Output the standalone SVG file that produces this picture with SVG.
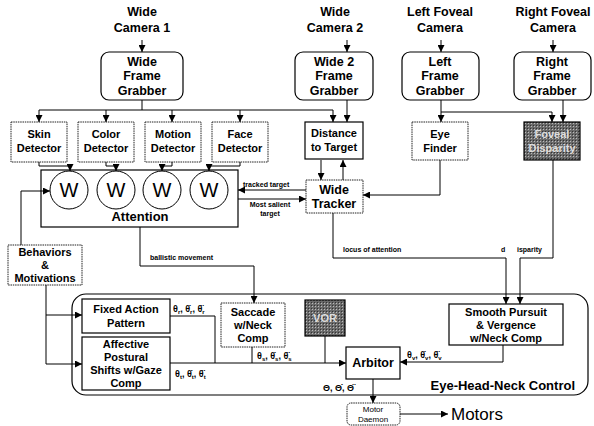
<svg xmlns="http://www.w3.org/2000/svg" width="594" height="426" viewBox="0 0 594 426">
<defs>
<marker id="ah" viewBox="0 0 8 8" refX="8" refY="4" markerWidth="7" markerHeight="7" markerUnits="userSpaceOnUse" orient="auto"><path d="M0,0 L8,4 L0,8 z" fill="#000"/></marker>
<pattern id="stip" width="3" height="3" patternUnits="userSpaceOnUse"><rect width="3" height="3" fill="#6a6a6a"/><rect width="1" height="1" fill="#bbb"/><rect x="2" y="2" width="1" height="1" fill="#333"/></pattern>
</defs>
<style>
text{font-family:"Liberation Sans",Arial,sans-serif;font-weight:bold;fill:#000;text-anchor:middle}
.t12{font-size:12.5px}
.t11{font-size:11px}
.t7{font-size:7px}
.t8{font-size:8px}
.th{font-size:9px}
.box{fill:#fff;stroke:#000;stroke-width:1.2}
.dbox{fill:#fff;stroke:#222;stroke-width:1;stroke-dasharray:1.5 0.8}
.dark{fill:url(#stip);stroke:#000;stroke-width:1.2}
.ln{fill:none;stroke:#000;stroke-width:1}
.arr{fill:none;stroke:#000;stroke-width:1;marker-end:url(#ah)}
.lt{fill:#ddd}
.sl{text-anchor:start}
</style>
<g id="labels-top">
<text class="t12" x="142" y="16">Wide</text><text class="t12" x="142" y="32">Camera 1</text>
<text class="t12" x="335" y="16">Wide</text><text class="t12" x="335" y="32">Camera 2</text>
<text class="t12" x="440" y="16">Left Foveal</text><text class="t12" x="440" y="32">Camera</text>
<text class="t12" x="553" y="16">Right Foveal</text><text class="t12" x="553" y="32">Camera</text>
</g>
<g id="eye-head-neck-control">
<rect x="72" y="294" width="516" height="101" rx="14" fill="none" stroke="#000" stroke-width="1.2"/>
<text x="575" y="390" style="font-size:13px;text-anchor:end">Eye-Head-Neck Control</text>
</g>
<g id="wide-frame-grabber"><rect class="box" x="101" y="52" width="82" height="48" rx="8"/>
<text class="t12" x="142" y="66">Wide</text><text class="t12" x="142" y="80">Frame</text><text class="t12" x="142" y="95">Grabber</text></g>
<g id="wide2-frame-grabber"><rect class="box" x="295" y="52" width="78" height="48" rx="8"/>
<text class="t12" x="334" y="66">Wide 2</text><text class="t12" x="334" y="80">Frame</text><text class="t12" x="334" y="95">Grabber</text></g>
<g id="left-frame-grabber"><rect class="box" x="402" y="52" width="77" height="48" rx="8"/>
<text class="t12" x="440" y="66">Left</text><text class="t12" x="440" y="80">Frame</text><text class="t12" x="440" y="95">Grabber</text></g>
<g id="right-frame-grabber"><rect class="box" x="514" y="52" width="77" height="48" rx="8"/>
<text class="t12" x="552" y="66">Right</text><text class="t12" x="552" y="80">Frame</text><text class="t12" x="552" y="95">Grabber</text></g>
<g id="skin-detector"><rect class="dbox" x="11" y="122" width="56" height="40"/>
<text class="t11" x="39" y="138">Skin</text><text class="t11" x="39" y="152">Detector</text></g>
<g id="color-detector"><rect class="dbox" x="78" y="122" width="56" height="40"/>
<text class="t11" x="106" y="138">Color</text><text class="t11" x="106" y="152">Detector</text></g>
<g id="motion-detector"><rect class="dbox" x="145" y="122" width="56" height="40"/>
<text class="t11" x="173" y="138">Motion</text><text class="t11" x="173" y="152">Detector</text></g>
<g id="face-detector"><rect class="dbox" x="212" y="122" width="56" height="40"/>
<text class="t11" x="240" y="138">Face</text><text class="t11" x="240" y="152">Detector</text></g>
<g id="distance-to-target"><rect class="box" x="305" y="122" width="58" height="37"/>
<text class="t11" x="334" y="137">Distance</text><text class="t11" x="334" y="151">to Target</text></g>
<g id="eye-finder"><rect class="dbox" x="412" y="122" width="56" height="38"/>
<text class="t11" x="440" y="138">Eye</text><text class="t11" x="440" y="152">Finder</text></g>
<g id="foveal-disparity"><rect class="dark" x="524" y="122" width="56" height="38"/>
<text class="t11 lt" x="552" y="138">Foveal</text><text class="t11 lt" x="552" y="152">Disparity</text></g>
<g id="attention"><rect class="box" x="41" y="170" width="197" height="57"/>
<circle cx="69" cy="190" r="19" fill="#fff" stroke="#000"/><circle cx="116" cy="190" r="19" fill="#fff" stroke="#000"/>
<circle cx="162" cy="190" r="19" fill="#fff" stroke="#000"/><circle cx="209" cy="190" r="19" fill="#fff" stroke="#000"/>
<text x="69" y="197" style="font-size:20px;font-weight:normal">W</text><text x="116" y="197" style="font-size:20px;font-weight:normal">W</text>
<text x="162" y="197" style="font-size:20px;font-weight:normal">W</text><text x="209" y="197" style="font-size:20px;font-weight:normal">W</text>
<text x="140" y="221" style="font-size:13px">Attention</text></g>
<g id="wide-tracker"><rect class="dbox" x="306" y="180" width="57" height="33"/>
<text class="t12" x="334" y="194">Wide</text><text class="t12" x="334" y="208">Tracker</text></g>
<g id="behaviors"><rect class="dbox" x="8" y="245" width="74" height="40"/>
<text class="t11" x="45" y="256">Behaviors</text><text class="t11" x="45" y="269">&amp;</text><text class="t11" x="45" y="282">Motivations</text></g>
<g id="fixed-action-pattern"><rect class="box" x="82" y="299" width="88" height="34"/>
<text class="t11" x="126" y="313">Fixed Action</text><text class="t11" x="126" y="327">Pattern</text></g>
<g id="affective"><rect class="box" x="82" y="337" width="88" height="53"/>
<text class="t11" x="126" y="348">Affective</text><text class="t11" x="126" y="361">Postural</text><text class="t11" x="126" y="374">Shifts w/Gaze</text><text class="t11" x="126" y="387">Comp</text></g>
<g id="saccade"><rect class="dbox" x="221" y="303" width="64" height="44"/>
<text class="t11" x="253" y="316">Saccade</text><text class="t11" x="253" y="329">w/Neck</text><text class="t11" x="253" y="342">Comp</text></g>
<g id="vor"><rect class="dark" x="305" y="300" width="40" height="36"/>
<text class="t11 lt" x="325" y="322">VOR</text></g>
<g id="smooth-pursuit"><rect class="box" x="449" y="304" width="114" height="41"/>
<text class="t11" x="506" y="316">Smooth Pursuit</text><text class="t11" x="506" y="329">&amp; Vergence</text><text class="t11" x="506" y="342">w/Neck Comp</text></g>
<g id="arbitor"><rect class="box" x="346" y="347" width="54" height="32"/>
<text class="t12" x="373" y="367">Arbitor</text></g>
<g id="motor-daemon"><rect class="dbox" x="347" y="403" width="53" height="22" rx="4"/>
<text class="t8" x="373" y="412" style="font-weight:normal">Motor</text><text class="t8" x="373" y="422" style="font-weight:normal">Daemon</text></g>
<g id="connectors">
<path class="arr" d="M142,40 V52"/>
<path class="arr" d="M347,40 V52"/>
<path class="arr" d="M441,40 V52"/>
<path class="arr" d="M553,40 V52"/>
<path class="ln" d="M142,100 V110"/>
<path class="ln" d="M39,110 H333"/>
<path class="arr" d="M39,110 V122"/><path class="arr" d="M106,110 V122"/><path class="arr" d="M172,110 V122"/><path class="arr" d="M240,110 V122"/>
<path class="arr" d="M333,110 V122"/>
<path class="arr" d="M347,100 V122"/>
<path class="arr" d="M441,100 V122"/>
<path class="arr" d="M441,112 H552 V122"/>
<path class="arr" d="M563,100 V122"/>
<path class="arr" d="M39,162 V166 H70 V171"/>
<path class="arr" d="M106,162 V166 H116 V171"/>
<path class="arr" d="M172,162 V166 H162 V171"/>
<path class="arr" d="M240,162 V166 H209 V171"/>
<path class="arr" d="M321,160 V180"/>
<path class="arr" d="M343,180 V160"/>
<path class="arr" d="M440,160 V195 H363"/>
<path class="arr" d="M306,190 H238"/>
<path class="arr" d="M238,199 H306"/>
<path class="arr" d="M21,245 V191 H50"/>
<path class="arr" d="M46,285 V364 H82"/>
<path class="arr" d="M46,315 H82"/>
<path class="arr" d="M140,227 V266 H254 V303"/>
<path class="arr" d="M333,213 V258 H506 V304"/>
<path class="arr" d="M553,160 V258 H520 V304"/>
<path class="ln" d="M170,316 H215 V363"/>
<path class="ln" d="M252,347 V363"/>
<path class="ln" d="M325,336 V363"/>
<path class="arr" d="M170,363 H346"/>
<path class="arr" d="M503,345 V362 H400"/>
<path class="arr" d="M373,379 V403"/>
<path class="arr" d="M400,414 H448"/>
</g>
<g id="connector-labels">
<text class="t7 sl" x="243" y="187">tracked target</text>
<text class="t7" x="270" y="207">Most salient</text><text class="t7" x="270" y="216">target</text>
<text class="t7 sl" x="150" y="260">ballistic movement</text>
<text class="t7 sl" x="343" y="252">locus of attention</text>
<text class="t7 sl" x="501" y="252">d</text><text class="t7 sl" x="517" y="252">isparity</text>
<text class="th sl" x="173" y="312">θ<tspan dy="2" font-size="6">r</tspan><tspan dy="-2">, θ̇</tspan><tspan dy="2" font-size="6">r</tspan><tspan dy="-2">, θ̈</tspan><tspan dy="2" font-size="6">r</tspan></text>
<text class="th sl" x="175" y="377">θ<tspan dy="2" font-size="6">t</tspan><tspan dy="-2">, θ̇</tspan><tspan dy="2" font-size="6">t</tspan><tspan dy="-2">, θ̈</tspan><tspan dy="2" font-size="6">t</tspan></text>
<text class="th sl" x="257" y="359">θ<tspan dy="2" font-size="6">s</tspan><tspan dy="-2">, θ̇</tspan><tspan dy="2" font-size="6">s</tspan><tspan dy="-2">, θ̈</tspan><tspan dy="2" font-size="6">s</tspan></text>
<text class="th sl" x="407" y="358">θ<tspan dy="2" font-size="6">v</tspan><tspan dy="-2">, θ̇</tspan><tspan dy="2" font-size="6">v</tspan><tspan dy="-2">, θ̈</tspan><tspan dy="2" font-size="6">v</tspan></text>
<text class="th sl" x="323" y="391">Θ, Θ̇, Θ̈</text>
<text x="451" y="420" style="font-size:17px;font-weight:normal;text-anchor:start">Motors</text>
</g>
</svg>
